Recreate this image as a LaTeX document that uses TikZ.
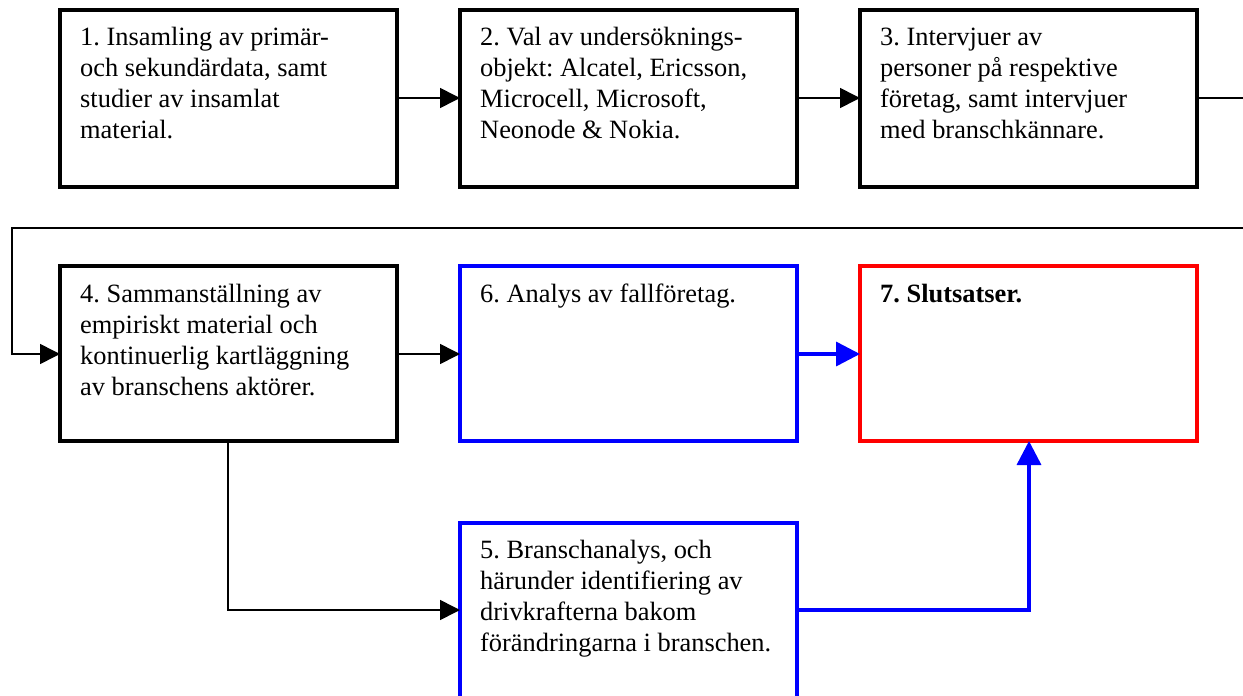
\documentclass[tikz,border=0pt]{standalone}
\usepackage{fontspec}
\setmainfont{Liberation Serif}
\usetikzlibrary{arrows.meta}
\begin{document}
\frenchspacing
\begin{tikzpicture}[x=1pt,y=-1pt,
  stepbox/.style={draw=black,line width=3.5pt},
  bluebox/.style={draw=blue,line width=3.5pt},
  redbox/.style={draw=red,line width=3.5pt},
  boxtext/.style={anchor=north west,inner sep=0pt,align=left,
    font=\fontsize{26.4}{31}\selectfont},
  conn/.style={draw=black,line width=1.6pt,-{Triangle[length=20pt,width=20pt]}},
  plain/.style={draw=black,line width=1.6pt},
  bconn/.style={draw=blue,line width=3.5pt,-{Triangle[length=24pt,width=24pt]}},
]
\useasboundingbox (0,0) rectangle (1243,696);

% boxes
\draw[stepbox] (60,10) rectangle (397,187);
\draw[stepbox] (460,10) rectangle (797,187);
\draw[stepbox] (860,10) rectangle (1197,187);
\draw[stepbox] (60,266) rectangle (397,441);
\draw[bluebox] (460,266) rectangle (797,441);
\draw[redbox] (860,266) rectangle (1197,441);
\draw[bluebox] (460,523) rectangle (797,720);

% anchor points on the box edges
\coordinate (b1e) at (397,98);
\coordinate (b2w) at (460,98);
\coordinate (b2e) at (797,98);
\coordinate (b3w) at (860,98);
\coordinate (b3e) at (1197,98);
\coordinate (b4w) at (60,354);
\coordinate (b4e) at (397,354);
\coordinate (b4s) at (228,441);
\coordinate (b6w) at (460,354);
\coordinate (b6e) at (797,354);
\coordinate (b7w) at (860,354);
\coordinate (b7s) at (1029,441);
\coordinate (b5w) at (460,610);
\coordinate (b5e) at (797,610);
\coordinate (edgeA) at (1243,98);
\coordinate (edgeB) at (1243,228);

% texts (first baseline 21.7pt below the node top, set by the strut)
\node[boxtext] (t1) at (80,23.3) {\strut 1. Insamling av primär-\\och sekundärdata, samt\\studier av insamlat\\material.};
\node[boxtext] (t2) at (480,23.3) {\strut 2. Val av undersöknings-\\objekt: Alcatel, Ericsson,\\Microcell, Microsoft,\\Neonode \& Nokia.};
\node[boxtext] (t3) at (880,23.3) {\strut 3. Intervjuer av\\personer på respektive\\företag, samt intervjuer\\med branschkännare.};
\node[boxtext] (t4) at (80,280.3) {\strut 4. Sammanställning av\\empiriskt material och\\kontinuerlig kartläggning\\av branschens aktörer.};
\node[boxtext] (t6) at (480,280.3) {\strut 6. Analys av fallföretag.};
\node[boxtext] (t7) at (880,280.3) {\strut\bfseries 7. Slutsatser.};
\node[boxtext] (t5) at (480,536.3) {\strut 5. Branschanalys, och\\härunder identifiering av\\drivkrafterna bakom\\förändringarna i branschen.};

% connectors
\draw[conn] (b1e) -- (b2w);
\draw[conn] (b2e) -- (b3w);
\draw[plain] (b3e) -- (edgeA);
\draw[conn] (edgeB) -- (12,228) -- (12,354) -- (b4w);
\draw[conn] (b4e) -- (b6w);
\draw[bconn] (b6e) -- (b7w);
\draw[conn] (b4s) -- (228,610) -- (b5w);
\draw[bconn] (b5e) -- (1029,610) -- (b7s);
\end{tikzpicture}
\end{document}
